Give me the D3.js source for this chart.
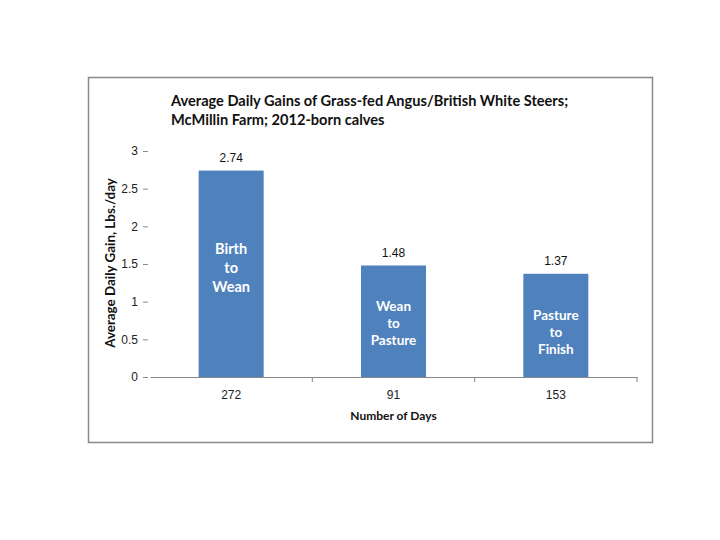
<!DOCTYPE html>
<html>
<head>
<meta charset="utf-8">
<script src="https://cdn.jsdelivr.net/npm/d3@7"></script>
<style>
  body { margin: 0; background: #fff; }
  svg text { font-family: Lato, "Open Sans", sans-serif; }
</style>
</head>
<body>
<div id="chart"></div>
<script>
// data
var days = ["272", "91", "153"]
var gains = [2.74, 1.48, 1.37]
var phases = [["Birth", "to", "Wean"], ["Wean", "to", "Pasture"], ["Pasture", "to", "Finish"]]
var yTicks = [0, 0.5, 1, 1.5, 2, 2.5, 3]
var titleLines = ["Average Daily Gains of Grass-fed Angus/British White Steers;", "McMillin Farm; 2012-born calves"]

var svg = d3.select("#chart")
    .append("svg")
    .attr("width", 720)
    .attr("height", 540)

// outer chart frame
svg.append("rect")
    .attr("x", 88.5).attr("y", 77.5)
    .attr("width", 564).attr("height", 365)
    .style("fill", "#fff")
    .style("stroke", "#8a8a8a")
    .style("stroke-width", 1.5)

var plotLeft = 150, plotRight = 637, plotTop = 151, plotBottom = 377

var x = d3.scaleBand()
    .domain(days)
    .range([plotLeft, plotRight])

var y = d3.scaleLinear()
    .domain([0, 3])
    .range([plotBottom, plotTop])

var barW = 65

// title
svg.append("g").selectAll("text")
    .data(titleLines)
    .enter()
    .append("text")
    .attr("x", 171)
    .attr("y", (d, i) => 106 + i * 19)
    .style("font-size", "14.6px")
    .style("font-weight", "bold")
    .style("fill", "#111")
    .text(d => d)

// y axis: ticks only, no line
var yAxis = svg.append("g")
    .attr("transform", "translate(" + (plotLeft - 2) + ",0)")
    .call(d3.axisLeft(y).tickValues(yTicks).tickSize(5).tickPadding(5).tickFormat(d3.format("")))
yAxis.select(".domain").remove()
yAxis.selectAll(".tick line").style("stroke", "#888")
yAxis.selectAll("text").style("font-size", "12px").style("fill", "#222")
    .style("font-family", "'Liberation Sans', sans-serif")

// x axis
var xAxis = svg.append("g")
    .attr("transform", "translate(0," + plotBottom + ")")
    .call(d3.axisBottom(x).tickSize(0).tickPadding(13))
xAxis.select(".domain").style("stroke", "#888")
xAxis.selectAll("text").style("font-size", "12px").style("fill", "#222")
    .style("font-family", "'Liberation Sans', sans-serif")

// category separators on x axis
var seps = days.slice(1).map(d => x(d)).concat([plotRight])
svg.append("g").selectAll("line")
    .data(seps)
    .enter()
    .append("line")
    .attr("x1", d => d)
    .attr("x2", d => d)
    .attr("y1", plotBottom)
    .attr("y2", plotBottom + 5)
    .style("stroke", "#888")

// bars
svg.append("g").selectAll("rect")
    .data(gains)
    .enter()
    .append("rect")
    .attr("x", (d, i) => x(days[i]) + x.bandwidth() / 2 - barW / 2)
    .attr("y", d => y(d))
    .attr("width", barW)
    .attr("height", d => plotBottom - y(d))
    .style("fill", "#4F81BD")

// values above bars
svg.append("g").selectAll("text")
    .data(gains)
    .enter()
    .append("text")
    .attr("x", (d, i) => x(days[i]) + x.bandwidth() / 2)
    .attr("y", d => y(d) - 9)
    .attr("text-anchor", "middle")
    .style("font-size", "12px")
    .style("fill", "#111")
    .style("font-family", "'Liberation Sans', sans-serif")
    .text(d => d3.format(".2f")(d))

// phase labels inside bars
phases.forEach(function (lines, i) {
    var cx = x(days[i]) + x.bandwidth() / 2
    var mid = (y(gains[i]) + plotBottom) / 2 + (i == 0 ? -6 : i == 1 ? 2 : 7)
    var fs = i == 0 ? 14.5 : 13.5
    var lh = i == 0 ? 19 : 17
    svg.append("g").selectAll("text")
        .data(lines)
        .enter()
        .append("text")
        .attr("x", cx)
        .attr("y", (d, j) => mid + (j - 1) * lh + fs * 0.35)
        .attr("text-anchor", "middle")
        .style("font-size", fs + "px")
        .style("font-weight", "bold")
        .style("fill", "#fff")
        .text(d => d)
})

// axis titles
svg.append("text")
    .attr("transform", "translate(115,263) rotate(-90)")
    .attr("text-anchor", "middle")
    .style("font-size", "13.4px")
    .style("font-weight", "bold")
    .style("fill", "#111")
    .text("Average Daily Gain, Lbs./day")

svg.append("text")
    .attr("x", (plotLeft + plotRight) / 2)
    .attr("y", 420)
    .attr("text-anchor", "middle")
    .style("font-size", "12px")
    .style("font-weight", "bold")
    .style("fill", "#111")
    .text("Number of Days")
</script>
</body>
</html>
